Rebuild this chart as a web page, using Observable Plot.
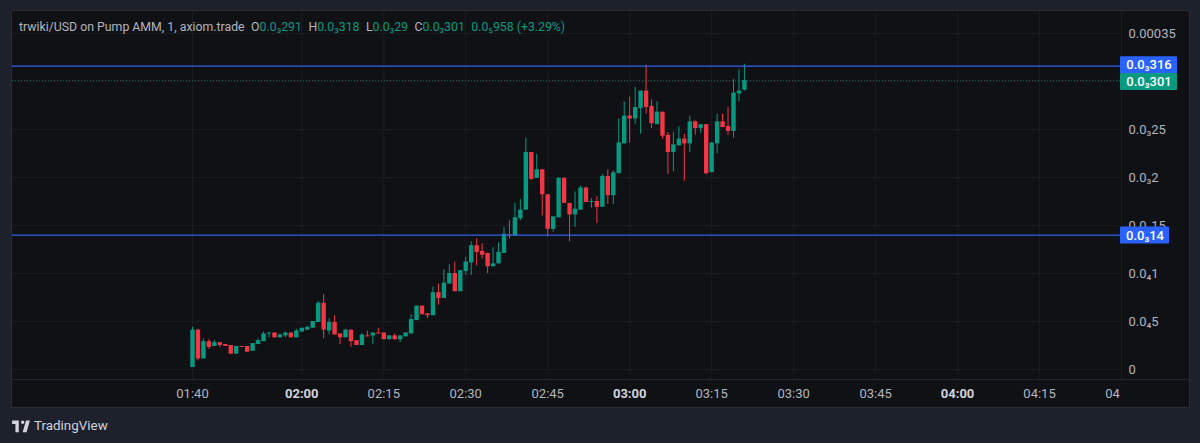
<!DOCTYPE html>
<html>
<head>
<meta charset="utf-8">
<script src="https://cdn.jsdelivr.net/npm/d3@7"></script>
<script src="https://cdn.jsdelivr.net/npm/@observablehq/plot@0.6"></script>
<style>
  html, body { margin: 0; padding: 0; background: #1d212c; width: 1200px; height: 443px; overflow: hidden; }
  body { position: relative; font-family: Roboto, "Noto Sans", sans-serif; }
  #panel { position: absolute; left: 11px; top: 10px; width: 1177px; height: 396px; background: #101115; border: 1px solid #272b36; box-sizing: content-box; }
  #sep { position: absolute; left: 11px; top: 379px; width: 1178px; height: 1px; background: #24262d; }
  #chart { position: absolute; left: 0; top: 0; }
  #legend { position: absolute; left: 19px; top: 19px; font-size: 12.3px; line-height: 16px; color: #b2b5be; white-space: nowrap; }
  #legend .g { color: #089981; }
  #legend .k { margin-left: 6.5px; }
  #brand { position: absolute; left: 11px; top: 416px; height: 18px; display: flex; align-items: center; color: #d1d4dc; font-size: 13.4px; }
  #brand svg { width: 20px; height: 16px; margin-right: 3px; fill: #d1d4dc; }
</style>
</head>
<body>
<div id="panel"></div>
<div id="sep"></div>
<div id="chart"></div>
<div id="legend">trwiki/USD on Pump AMM, 1, axiom.trade<span class="k">O</span><span class="g">0.0₃291</span><span class="k">H</span><span class="g">0.0₃318</span><span class="k">L</span><span class="g">0.0₃29</span><span class="k">C</span><span class="g">0.0₃301</span><span class="g k">0.0₅958 (+3.29%)</span></div>
<div id="brand"><svg viewBox="0 0 36 28"><path d="M14 6H2v6h6v15h6V6zm14 21h-7l6-21h7l-6 21zm-7-15a3 3 0 1 0 0-6 3 3 0 0 0 0 6z"/></svg>TradingView</div>
<script>
// Prices are in millionths (291 = 0.000291), one candle per minute from 01:40.
const opens = [2,41,11,29,24,28,26,25,16,24,24,19,26,29,37,38,33,35,38,33,39,41,43,49,69,40,49,37,33,41,30,25,35,35,38,38,31,35,31,34,37,51,66,58,56,80,74,89,100,81,102,111,129,123,121,107,110,121,140,139,157,166,226,199,208,182,146,158,199,173,161,166,189,174,175,169,201,181,204,235,264,261,272,290,274,255,268,244,226,233,240,235,258,251,255,205,235,258,253,248,287,291];
const closes = [41,11,29,23,28,25,24,16,24,23,18,27,30,37,38,33,36,38,33,40,43,44,50,69,41,49,36,33,41,29,25,36,34,38,37,31,35,31,35,38,52,66,57,56,80,74,90,100,81,103,112,129,122,119,107,110,122,141,139,158,166,226,198,208,182,146,159,199,173,161,167,189,174,175,169,201,181,205,236,264,261,273,290,273,256,268,243,226,234,240,235,258,251,255,204,236,258,252,248,288,290,301];
const highs = [44,42,32,31,30,28,26,25,24,24,24,27,32,39,38.5,38,37,39,38,42,43,45,50,71,78,53,56,37,42,41,30,37,40,38,43,38,35,37,35,38,57,66,66,58,86,89,104,109,112,103,117,133,136,131,121,127,132,148,155,173,177,241,226,224,208,182,159,200,200,173,185,191,190,178,180,203,208,207,261,279,284,294,290,317,281,279,268,247,247,253,245,264,259,255,255,236,266,266,273,302,312,318];
const lows = [2,9,11,21,24,23,24,16,16,23,18,19,26,29,33,33,33,33,33,33,39,41,43,49,32,36,36,26,33,23,25,25,34,26,37,31,31,31,28,34,37,51,57,53,56,67,74,89,81,81,98,98,108,115,100,107,110,121,136,139,155,166,197,199,160,138,143,158,173,133,148,166,174,168,152,169,172,172,204,235,236,255,245,266,251,255,240,203,206,233,196,226,244,246,203,205,225,252,244,241,279,290];
const startTime = Date.UTC(2024, 0, 1, 1, 40);

const xTickLabels = ["01:40","02:00","02:15","02:30","02:45","03:00","03:15","03:30","03:45","04:00","04:15","04:30"];
const xBoldLabels = ["02:00","03:00","04:00"];
const yGridValues = [0,50,100,150,200,250,300,350];
const yTickValues = [0,50,100,150,200,250,350];
const yTickLabels = ["0","0.0₄5","0.0₄1","0.0₃15","0.0₃2","0.0₃25","0.00035"];
const levelValues = [316,140];
const levelLabels = ["0.0₃316","0.0₃14"];
const lastPrice = 301;
const lastLabel = "0.0₃301";

const UP = "#089981", DOWN = "#f23645", BLUE = "#2962ff", GRID = "#1a1c21", PANEL = "#101115";

const toTime = (s) => new Date(Date.UTC(2024, 0, 1, +s.slice(0, 2), +s.slice(3)));
const xTicks = xTickLabels.map(toTime);
const xRegular = xTickLabels.filter((l) => !xBoldLabels.includes(l)).map(toTime);
const xBold = xBoldLabels.map(toTime);
const fmtX = d3.utcFormat("%H:%M");
const fmtY = (v) => yTickLabels[yTickValues.indexOf(v)];

const idx = d3.range(opens.length);
const time = (i) => new Date(startTime + i * 60000);
const isUp = (i) => closes[i] >= opens[i];
const isDown = (i) => !isUp(i);

// Price-scale pane: hides what runs past the time pane, as the original does.
const pricePane = (index, scales, values, dim) => {
  const g = d3.create("svg:g");
  g.append("rect")
    .attr("x", dim.width - dim.marginRight).attr("y", dim.height - dim.marginBottom + 1)
    .attr("width", 68).attr("height", 26).attr("fill", PANEL);
  return g.node();
};

// Coloured price tags on the price scale, placed through the y scale.
const tags = [
  {v: levelValues[0], w: 57, c: BLUE, nudge: -1},
  {v: lastPrice, w: 57, c: UP, nudge: 1.5},
  {v: levelValues[1], w: 49, c: BLUE, nudge: 0.5}
];
const tagMark = (index, scales, values, dim) => {
  const g = d3.create("svg:g");
  for (const t of tags) {
    g.append("rect")
      .attr("x", dim.width - dim.marginRight)
      .attr("y", scales.y(t.v) + t.nudge - 8.5)
      .attr("width", t.w).attr("height", 17).attr("rx", 1).attr("fill", t.c);
  }
  return g.node();
};
const tagText = [
  {v: levelValues[0], label: levelLabels[0], dx: 28.5, nudge: -1},
  {v: lastPrice, label: lastLabel, dx: 28.5, nudge: 1.5},
  {v: levelValues[1], label: levelLabels[1], dx: 24.5, nudge: 0.5}
];

const plot = Plot.plot({
  width: 1200,
  height: 443,
  marginLeft: 12,
  marginRight: 80,
  marginTop: 11,
  marginBottom: 64,
  style: {background: "transparent", fontFamily: "Roboto, 'Noto Sans', sans-serif", fontSize: "13px", color: "#b2b5be"},
  x: {type: "utc", domain: [toTime("01:40"), toTime("04:30")], range: [192, 1121]},
  y: {type: "linear", domain: [0, 350], range: [369, 33]},
  marks: [
    Plot.gridX(xTicks, {stroke: GRID, strokeOpacity: 1}),
    Plot.gridY(yGridValues, {stroke: GRID, strokeOpacity: 1}),
    Plot.ruleY([lastPrice], {stroke: UP, strokeOpacity: 0.65, strokeDasharray: "1,2"}),
    Plot.ruleX(idx, {filter: isUp, x: time, y1: (i) => lows[i], y2: (i) => highs[i], stroke: UP, strokeWidth: 1}),
    Plot.ruleX(idx, {filter: isDown, x: time, y1: (i) => lows[i], y2: (i) => highs[i], stroke: DOWN, strokeWidth: 1}),
    Plot.ruleX(idx, {filter: isUp, x: time, y1: (i) => opens[i], y2: (i) => closes[i], stroke: UP, strokeWidth: 4.4}),
    Plot.ruleX(idx, {filter: isDown, x: time, y1: (i) => opens[i], y2: (i) => closes[i], stroke: DOWN, strokeWidth: 4.4}),
    Plot.ruleY(levelValues, {stroke: "#2e63ea", strokeWidth: 1.2}),
    Plot.axisX({ticks: xRegular, tickFormat: fmtX, tickSize: 0, tickPadding: 9, label: null, color: "#b2b5be", fontSize: 13}),
    Plot.axisX({ticks: xBold, tickFormat: fmtX, tickSize: 0, tickPadding: 9, label: null, color: "#d1d4dc", fontWeight: "bold", fontSize: 13}),
    pricePane,
    Plot.axisY({anchor: "right", ticks: yTickValues, tickFormat: fmtY, tickSize: 0, tickPadding: 8, label: null, color: "#b2b5be", fontSize: 13}),
    tagMark,
    Plot.text(tagText, {
      y: "v", text: "label", frameAnchor: "right", textAnchor: "middle",
      fill: "#ffffff", fontWeight: 500, fontSize: 13,
      render(index, scales, values, dim, ctx, next) {
        const g = next(index, scales, values, dim, ctx);
        d3.select(g).selectAll("text").attr("transform", (_, j) =>
          `translate(${dim.width - dim.marginRight + tagText[j].dx},${scales.y(tagText[j].v) + tagText[j].nudge})`);
        return g;
      }
    })
  ]
});
document.getElementById("chart").appendChild(plot);
</script>
</body>
</html>
